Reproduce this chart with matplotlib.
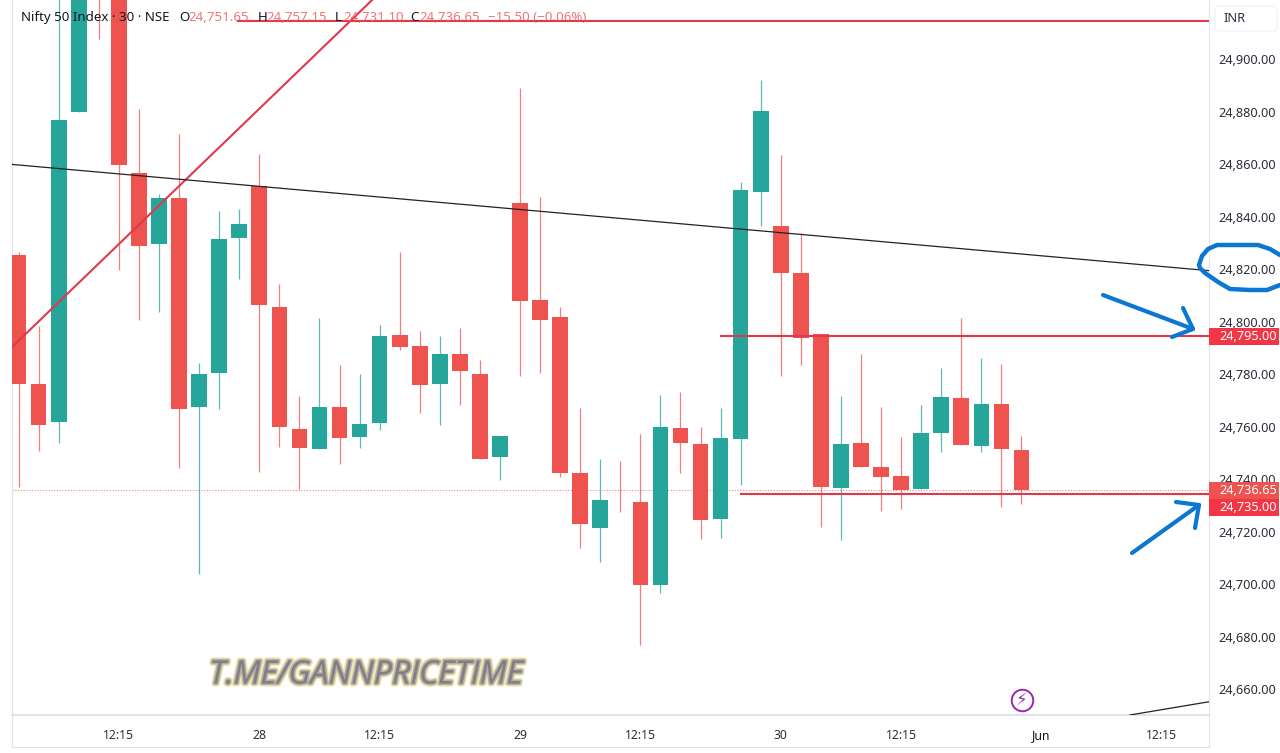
import matplotlib.pyplot as plt
import matplotlib.patheffects as pe
from matplotlib.patches import FancyBboxPatch, Rectangle
from matplotlib.transforms import ScaledTranslation

# 30 minute bars (bars above the visible range are estimates)
opens = [24826.0, 24776.9, 24762.4, 24880.4, 24990.0, 24945.0, 24857.3, 24830.15, 24847.7,
         24768.1, 24780.9, 24832.3, 24852.3, 24806.2, 24759.8, 24752.0, 24768.0, 24756.8,
         24762.1, 24795.4, 24791.2, 24776.7, 24788.3, 24780.65, 24749.2, 24845.9, 24808.8,
         24802.4, 24742.9, 24722.0, 24732.0, 24732.0, 24700.2, 24760.2, 24754.0, 24725.6,
         24755.8, 24850.1, 24837.1, 24819.0, 24795.8, 24737.4, 24754.4, 24745.3, 24741.8,
         24737.0, 24758.3, 24771.6, 24753.4, 24769.2, 24751.65]
highs = [24827.2, 24798.9, 24935.0, 24970.0, 25000.0, 24950.0, 24881.5, 24849.2, 24872.0,
         24785.0, 24842.7, 24843.5, 24864.4, 24814.9, 24772.4, 24802.0, 24784.1, 24780.65,
         24799.2, 24827.1, 24797.0, 24795.0, 24798.1, 24786.0, 24757.1, 24889.5, 24847.9,
         24806.2, 24767.7, 24748.4, 24747.7, 24757.8, 24772.8, 24773.8, 24760.6, 24767.6,
         24853.9, 24892.6, 24864.0, 24834.2, 24795.8, 24772.4, 24788.2, 24768.2, 24756.8,
         24768.9, 24783.1, 24801.9, 24786.6, 24784.35, 24757.15]
lows = [24737.8, 24751.35, 24754.5, 24880.4, 24908.2, 24820.25, 24801.2, 24804.3, 24744.9,
        24704.5, 24767.3, 24816.8, 24743.4, 24753.0, 24736.8, 24752.0, 24746.4, 24752.4,
        24759.35, 24789.8, 24765.9, 24761.1, 24769.0, 24748.2, 24740.3, 24779.9, 24780.9,
        24741.5, 24714.4, 24709.1, 24728.25, 24677.5, 24697.4, 24742.9, 24718.0, 24718.2,
        24738.4, 24837.1, 24780.0, 24784.0, 24722.3, 24717.5, 24745.4, 24728.6, 24729.4,
        24737.0, 24751.0, 24753.75, 24751.1, 24730.15, 24731.10]
closes = [24776.7, 24761.1, 24877.35, 24960.0, 24935.0, 24860.2, 24829.5, 24847.7, 24767.3,
          24780.65, 24831.9, 24837.8, 24806.9, 24760.4, 24752.4, 24768.0, 24756.2, 24761.6,
          24795.1, 24790.9, 24776.4, 24788.3, 24781.9, 24748.2, 24757.1, 24808.45, 24801.3,
          24743.1, 24723.6, 24732.7, 24731.8, 24700.2, 24760.6, 24754.4, 24725.2, 24756.4,
          24850.7, 24880.9, 24819.2, 24794.5, 24737.8, 24754.0, 24745.4, 24741.6, 24736.4,
          24758.1, 24772.0, 24753.75, 24769.2, 24752.0, 24736.65]

price_ticks = [24660, 24680, 24700, 24720, 24740, 24760, 24780, 24800, 24820, 24840, 24860, 24880, 24900]
time_ticks = [5, 12, 18, 25, 31, 38, 44, 51, 57]
time_labels = ["12:15", "28", "12:15", "29", "12:15", "30", "12:15", "Jun", "12:15"]

# drawings on the chart, as bar index and price
red_trend_bars = [-0.33, 17.62]
red_trend_prices = [24790.9, 24923.0]
black_trend_bars = [-0.33, 59.35]
black_trend_prices = [24860.45, 24820.0]
lower_trend_bars = [55.4, 59.35]
lower_trend_prices = [24650.85, 24655.9]
top_level = 24915.0
top_level_start = 10.9
upper_level = 24795.0
upper_level_start = 34.96
lower_level = 24735.0
lower_level_start = 35.96
last_price = 24736.65

# hand drawn blue marks, in image pixels
circle_x = [1280, 1270, 1258, 1217, 1208, 1202, 1199, 1200, 1205, 1218, 1230, 1250, 1267, 1280]
circle_y = [255, 249, 245, 245, 249, 256, 265, 268, 273, 282, 289, 290, 290, 285]
arrow1_shaft_x = [1103, 1193]
arrow1_shaft_y = [295, 329]
arrow1_head_x = [1183, 1193, 1172]
arrow1_head_y = [308, 329, 337]
arrow2_shaft_x = [1132, 1199]
arrow2_shaft_y = [553, 505]
arrow2_head_x = [1176, 1199, 1195]
arrow2_head_y = [502, 505, 528]

GREEN = "#26A69A"
RED = "#EF5350"
LINE_RED = "#E0394C"
INK = "#2A2E39"
BLUE = "#0A78D2"
BORDER = "#E0E3EB"

plt.rcParams["font.family"] = ["Noto Sans", "DejaVu Sans"]

fig = plt.figure(figsize=(12.8, 7.53), dpi=100)
ax = fig.add_axes([12 / 1280, 1 - 715 / 753, (1209 - 12) / 1280, 715 / 753])

bars = list(range(len(opens)))
colors = [GREEN if c >= o else RED for o, c in zip(opens, closes)]

ax.vlines(bars, lows, highs, colors=colors, linewidth=0.9, alpha=0.75, zorder=2)
ax.bar(bars, [abs(c - o) for o, c in zip(opens, closes)],
       bottom=[min(o, c) for o, c in zip(opens, closes)],
       width=0.78, color=colors, zorder=3)

ax.hlines(last_price, -0.33, 59.35, colors=RED, linewidth=0.8, linestyles=(0, (1, 1.5)), alpha=0.7, zorder=1)
ax.plot(red_trend_bars, red_trend_prices, color=LINE_RED, linewidth=1.5, zorder=4)
ax.plot(black_trend_bars, black_trend_prices, color="#222222", linewidth=0.9, zorder=4)
ax.plot(lower_trend_bars, lower_trend_prices, color="#222222", linewidth=0.9, zorder=4)
ax.hlines(top_level, top_level_start, 59.35, colors=LINE_RED, linewidth=1.5, zorder=4)
ax.hlines(upper_level, upper_level_start, 59.35, colors=LINE_RED, linewidth=1.5, zorder=4)
ax.hlines(lower_level, lower_level_start, 59.35, colors=LINE_RED, linewidth=1.5, zorder=4)

ax.set_xlim(-0.33, 59.35)
ax.set_ylim(24650.86, 24923.03)
ax.yaxis.tick_right()
ax.set_yticks(price_ticks)
ax.set_yticklabels([f"{p:,.2f}" for p in price_ticks], fontsize=9.2, color=INK)
ax.set_xticks(time_ticks)
ax.set_xticklabels(time_labels, fontsize=8.8, color=INK)
ax.tick_params(axis="y", length=0, pad=7)
ax.tick_params(axis="x", length=0, pad=10)
ax.get_xticklabels()[7].set_fontweight("bold")
ax.get_xticklabels()[7].set_color("#131722")
offset = ScaledTranslation(0, 1.5 / 100, fig.dpi_scale_trans)
for label in ax.get_yticklabels():
    label.set_transform(label.get_transform() + offset)
ax.spines["top"].set_visible(False)
for side in ["left", "right"]:
    ax.spines[side].set_color(BORDER)
    ax.spines[side].set_linewidth(0.8)
ax.spines["bottom"].set_color(BORDER)
ax.spines["bottom"].set_linewidth(1.5)

# overlay in image pixels for the header, price tags and hand drawn marks
top = fig.add_axes([0, 0, 1, 1])
top.set_xlim(0, 1280)
top.set_ylim(753, 0)
top.axis("off")

top.plot([12, 1209], [747, 747], color=BORDER, linewidth=0.8)
top.plot([12, 12], [715, 747], color=BORDER, linewidth=0.8)
top.plot([1209, 1209], [715, 747], color=BORDER, linewidth=0.8)

header_dark = [(21, "Nifty 50 Index · 30 · NSE"), (179, "O"), (257.5, "H"), (335, "L"), (410, "C")]
header_red = [(188, "24,751.65"), (266, "24,757.15"), (343, "24,731.10"), (419, "24,736.65"),
              (488, "−15.50 (−0.06%)")]
for x, txt in header_dark:
    top.text(x, 17.5, txt, fontsize=9.6, color="#131722", va="center", ha="left")
for x, txt in header_red:
    top.text(x, 17.5, txt, fontsize=9.6, color=RED, alpha=0.8, va="center", ha="left")

top.add_patch(FancyBboxPatch((1215, 6), 62, 25, boxstyle="round,pad=0,rounding_size=4",
                             facecolor="white", edgecolor="#F0F3FA", linewidth=1))
top.text(1223, 18, "INR", fontsize=9.2, color=INK, va="center", ha="left")

tags = [(328, 345, "#F23645", "24,795.00"), (481.7, 499.3, "#EF5350", "24,736.65"),
        (499.3, 516, "#F23645", "24,735.00")]
for y0, y1, face, txt in tags:
    top.add_patch(Rectangle((1209, y0), 70, y1 - y0, facecolor=face, edgecolor="none"))
    top.text(1219, (y0 + y1) / 2, txt, fontsize=9.2, color="white", va="center", ha="left")

top.plot(circle_x, circle_y, color=BLUE, linewidth=3.2, solid_capstyle="round", solid_joinstyle="round")
top.plot(arrow1_shaft_x, arrow1_shaft_y, color=BLUE, linewidth=3, solid_capstyle="round")
top.plot(arrow1_head_x, arrow1_head_y, color=BLUE, linewidth=3, solid_capstyle="round", solid_joinstyle="round")
top.plot(arrow2_shaft_x, arrow2_shaft_y, color=BLUE, linewidth=3, solid_capstyle="round")
top.plot(arrow2_head_x, arrow2_head_y, color=BLUE, linewidth=3, solid_capstyle="round", solid_joinstyle="round")

top.text(366.5, 675, "T.ME/GANNPRICETIME", fontsize=23.2, style="italic", color="#7C7D8E",
         family="Open Sans", va="center", ha="center",
         path_effects=[pe.withStroke(linewidth=4.5, foreground="#DDD67A", alpha=0.55),
                       pe.withStroke(linewidth=2.4, foreground="#B3A996", alpha=0.9)])

top.plot([1021.7], [700], marker="o", markersize=15.5, markerfacecolor="none",
         markeredgecolor="#9C27B0", markeredgewidth=1.4)
top.text(1021.7, 700, "⚡", fontsize=12, color="#9C27B0", va="center", ha="center", family="DejaVu Sans")

fig.savefig("out.png", dpi=100)
plt.close(fig)
